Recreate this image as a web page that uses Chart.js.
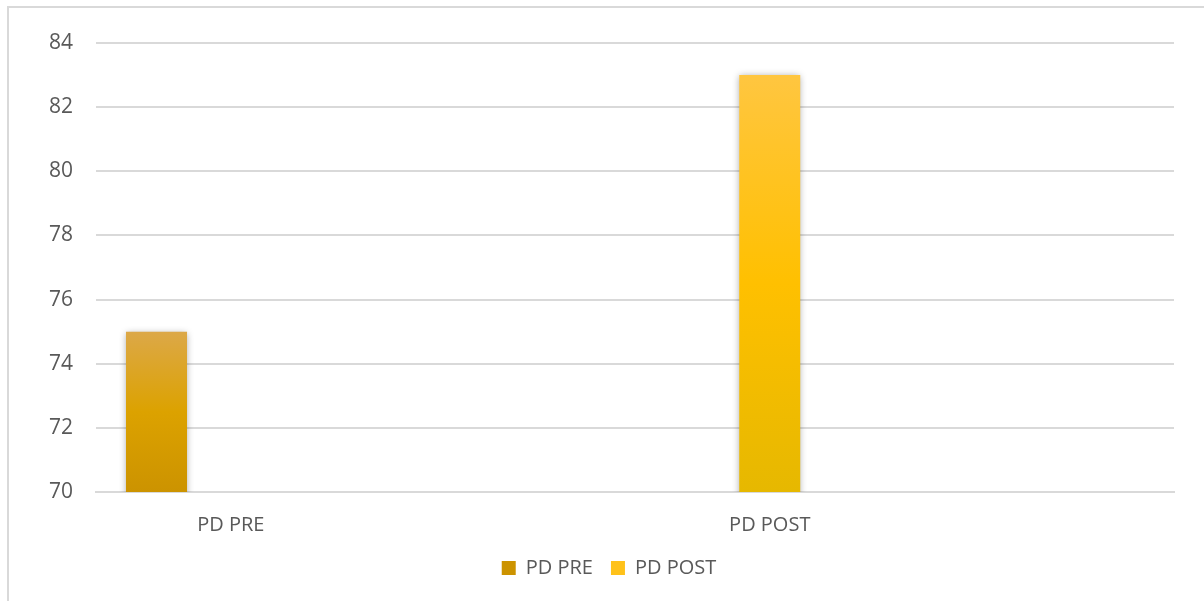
<!DOCTYPE html>
<html>
<head>
<meta charset="utf-8">
<script src="https://cdn.jsdelivr.net/npm/chart.js@4"></script>
<style>
  html, body { margin: 0; padding: 0; background: #fff; overflow: hidden; }
  #frame { position: absolute; left: 7px; top: 6px; width: 1400px; height: 800px; border: 2px solid #d9d9d9; box-sizing: border-box; }
  #wrap { position: absolute; left: 0; top: 0; width: 1204px; height: 601px; }
</style>
</head>
<body>
<div id="frame"></div>
<div id="wrap"><canvas id="chart"></canvas></div>
<script>
// categories on the x axis (blank ones keep the spacing of the original)
const categories = ['PD PRE', '', 'PD POST', ''];
const seriesNames = ['PD PRE', 'PD POST'];
const pdPre = [75, null, null, null];
const pdPost = [null, null, 83, null];
const yMin = 70;
const yMax = 84;
const yStep = 2;

const textColor = '#595959';
const gridColor = '#d9d9d9';

// vertical gradient per bar, from the bar top down to the axis
function barGradient(stops, flat) {
    return (ctx) => {
        const chart = ctx.chart;
        if (!chart.chartArea || ctx.type !== 'data' || ctx.raw == null) return flat;
        const y = chart.scales.y;
        const top = y.getPixelForValue(ctx.raw);
        const bottom = y.getPixelForValue(y.min);
        const g = chart.ctx.createLinearGradient(0, top, 0, bottom);
        stops.forEach(([p, c]) => g.addColorStop(p, c));
        return g;
    };
}

const barShadow = {
    id: 'barShadow',
    beforeDatasetsDraw(chart) {
        const c = chart.ctx;
        c.save();
        c.shadowColor = 'rgba(0,0,0,0.35)';
        c.shadowBlur = 7;
        c.shadowOffsetX = 0;
        c.shadowOffsetY = 1;
    },
    afterDatasetsDraw(chart) {
        chart.ctx.restore();
    }
};

const font = { family: '"Open Sans", "Noto Sans", sans-serif', size: 20 };

new Chart(document.getElementById('chart'), {
    type: 'bar',
    data: {
        labels: categories,
        datasets: [
            {
                label: seriesNames[0],
                data: pdPre,
                backgroundColor: barGradient([[0, '#dca848'], [0.5, '#dca200'], [1, '#cc9300']], '#d8a21e'),
                categoryPercentage: 1.102,
                barPercentage: 0.411
            },
            {
                label: seriesNames[1],
                data: pdPost,
                skipNull: true,
                backgroundColor: barGradient([[0, '#ffc640'], [0.5, '#ffc000'], [1, '#e6b800']], '#ffc21a'),
                categoryPercentage: 1.0,
                barPercentage: 0.2263
            }
        ]
    },
    options: {
        responsive: true,
        maintainAspectRatio: false,
        animation: false,
        layout: { padding: { left: 44, right: 30, top: 43, bottom: 13 } },
        plugins: {
            legend: {
                position: 'bottom',
                labels: { boxWidth: 14, boxHeight: 14, padding: 18, color: textColor, font: font }
            },
            tooltip: { enabled: false }
        },
        scales: {
            x: {
                grid: { display: false },
                border: { display: true, color: gridColor, width: 2 },
                ticks: { color: textColor, font: font, padding: 13, autoSkip: false, maxRotation: 0 },
                afterFit: (s) => { s.height = 48; }
            },
            y: {
                min: yMin,
                max: yMax,
                grid: { color: gridColor, lineWidth: 2, drawTicks: false },
                border: { display: false },
                ticks: { stepSize: yStep, color: textColor, font: { ...font, size: 21 }, padding: 23 },
                afterFit: (s) => { s.width = 52; }
            }
        }
    },
    plugins: [barShadow]
});
</script>
</body>
</html>
